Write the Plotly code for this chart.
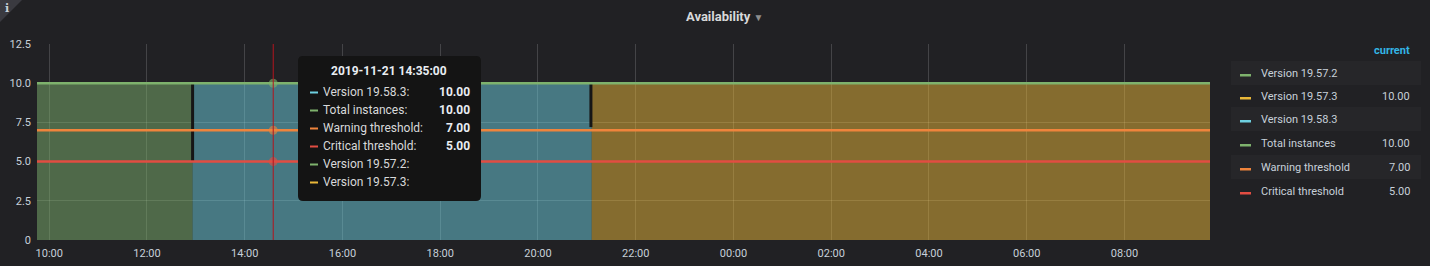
import plotly.graph_objects as go

# ---------------- data ----------------
time_range = ["2019-11-21 09:45", "2019-11-22 09:45"]

v19572_time = ["2019-11-21 09:45", "2019-11-21 12:56"]
v19572_vals = [10, 10]
v19583_time = ["2019-11-21 12:56", "2019-11-21 21:06"]
v19583_vals = [10, 10]
v19573_time = ["2019-11-21 21:06", "2019-11-22 09:45"]
v19573_vals = [10, 10]

total_vals = [10, 10]
warning_vals = [7, 7]
critical_vals = [5, 5]

transition_times = ["2019-11-21 12:56", "2019-11-21 21:05"]
gap_tops = [10.0, 10.0]
gap_bottoms = [5.0, 7.2]

cursor_time = "2019-11-21 14:35"
cursor_vals = [10, 7, 5]

x_tickvals = ["2019-11-21 10:00", "2019-11-21 12:00", "2019-11-21 14:00", "2019-11-21 16:00",
              "2019-11-21 18:00", "2019-11-21 20:00", "2019-11-21 22:00", "2019-11-22 00:00",
              "2019-11-22 02:00", "2019-11-22 04:00", "2019-11-22 06:00", "2019-11-22 08:00"]
x_ticktext = ["10:00", "12:00", "14:00", "16:00", "18:00", "20:00", "22:00", "00:00",
              "02:00", "04:00", "06:00", "08:00"]
y_tickvals = [0, 2.5, 5, 7.5, 10, 12.5]
y_ticktext = ["0", "2.5", "5.0", "7.5", "10.0", "12.5"]

legend_names = ["Version 19.57.2", "Version 19.57.3", "Version 19.58.3",
                "Total instances", "Warning threshold", "Critical threshold"]
legend_values = ["", "10.00", "", "10.00", "7.00", "5.00"]
legend_colors = ["#7EB26D", "#EAB839", "#6ED0E0", "#7EB26D", "#EF843C", "#E24D42"]

tooltip_title = "2019-11-21 14:35:00"
tooltip_names = ["Version 19.58.3:", "Total instances:", "Warning threshold:",
                 "Critical threshold:", "Version 19.57.2:", "Version 19.57.3:"]
tooltip_values = ["10.00", "10.00", "7.00", "5.00", "", ""]
tooltip_colors = ["#6ED0E0", "#7EB26D", "#EF843C", "#E24D42", "#7EB26D", "#EAB839"]

# ---------------- layout geometry (pixels) ----------------
W, H = 1430, 266
PX0, PX1 = 37, 1210
PY_TOP, PY_BOT = 44, 240
BG = "#212124"
TXT = "#c7d0d9"
FONT = "Roboto"


def px(x):
    return x / W


def py(y):
    return 1 - y / H


def note(x, y, text, size, color, xanchor="center", family=FONT):
    return dict(x=px(x), y=py(y), xref="paper", yref="paper", xanchor=xanchor, yanchor="middle",
                text=text, showarrow=False, font=dict(family=family, size=size, color=color))


def rounded_rect(x0, y0, x1, y1, r):
    return (f"M {px(x0 + r)} {py(y0)} L {px(x1 - r)} {py(y0)} Q {px(x1)} {py(y0)} {px(x1)} {py(y0 + r)} "
            f"L {px(x1)} {py(y1 - r)} Q {px(x1)} {py(y1)} {px(x1 - r)} {py(y1)} "
            f"L {px(x0 + r)} {py(y1)} Q {px(x0)} {py(y1)} {px(x0)} {py(y1 - r)} "
            f"L {px(x0)} {py(y0 + r)} Q {px(x0)} {py(y0)} {px(x0 + r)} {py(y0)} Z")


fig = go.Figure()

# stacked version areas
for t, v, c in [(v19572_time, v19572_vals, "126,178,109"),
                (v19583_time, v19583_vals, "110,208,224"),
                (v19573_time, v19573_vals, "234,184,57")]:
    fig.add_trace(go.Scatter(x=t, y=v, mode="lines", fill="tozeroy",
                             fillcolor=f"rgba({c},0.5)",
                             line=dict(color=f"rgb({c})", width=1),
                             hoverinfo="skip", showlegend=False))

# transition gap artifacts
for tt, top, bot in zip(transition_times, gap_tops, gap_bottoms):
    fig.add_trace(go.Scatter(x=[tt, tt], y=[bot, top], mode="lines",
                             line=dict(color="#161616", width=3),
                             hoverinfo="skip", showlegend=False))

# threshold / total lines
for v, c in [(total_vals, "#7EB26D"), (warning_vals, "#EF843C"), (critical_vals, "#E24D42")]:
    fig.add_trace(go.Scatter(x=time_range, y=v, mode="lines",
                             line=dict(color=c, width=2.5),
                             hoverinfo="skip", showlegend=False))

# cursor hover markers
fig.add_trace(go.Scatter(x=[cursor_time] * len(cursor_vals), y=cursor_vals, mode="markers",
                         marker=dict(size=9, color=["rgba(126,178,109,0.6)", "rgba(239,132,60,0.6)",
                                                    "rgba(226,77,66,0.6)"]),
                         hoverinfo="skip", showlegend=False))

shapes = []
annotations = []

# cursor line
shapes.append(dict(type="line", xref="x", yref="paper", x0=cursor_time, x1=cursor_time,
                   y0=py(PY_BOT), y1=py(PY_TOP), line=dict(color="#b3151e", width=1)))

# info corner
shapes.append(dict(type="path", xref="paper", yref="paper",
                   path=f"M 0 1 L {px(22)} 1 L 0 {py(22)} Z",
                   fillcolor="#3a3a40", line=dict(width=0)))
annotations.append(note(7, 8, "<b>i</b>", 11, "#c7d0d9", family="DejaVu Serif"))

# title
annotations.append(note(724, 16,
                        "<b>Availability</b> <span style='font-size:10px;color:#8e8e8e'>▼</span>",
                        13, "#d8d9da"))

# legend table
annotations.append(note(1412, 50, "<b>current</b>", 11, "#33b5e5", xanchor="right"))
row_y = [73, 96, 119, 143, 167, 191]
for i, (n, v, c) in enumerate(zip(legend_names, legend_values, legend_colors)):
    y = row_y[i]
    if i % 2 == 0:
        shapes.append(dict(type="rect", xref="paper", yref="paper",
                           x0=px(1231), x1=px(1421), y0=py(y + 12), y1=py(y - 12),
                           fillcolor="#262629", line=dict(width=0), layer="below"))
    shapes.append(dict(type="rect", xref="paper", yref="paper",
                       x0=px(1240), x1=px(1251), y0=py(y + 3.5), y1=py(y + 1),
                       fillcolor=c, line=dict(width=0)))
    annotations.append(note(1259, y, n, 11, TXT, xanchor="left"))
    if v:
        annotations.append(note(1412, y, v, 11, TXT, xanchor="right"))

# tooltip
shapes.append(dict(type="path", xref="paper", yref="paper",
                   path=rounded_rect(298, 56, 481, 201, 5),
                   fillcolor="#141414", line=dict(width=0)))
annotations.append(note(389, 71, f"<b>{tooltip_title}</b>", 12, "#e9edf2"))
tt_y = [92, 110, 128, 146, 164, 182]
for i, (n, v, c) in enumerate(zip(tooltip_names, tooltip_values, tooltip_colors)):
    y = tt_y[i]
    shapes.append(dict(type="rect", xref="paper", yref="paper",
                       x0=px(310), x1=px(318), y0=py(y + 1.5), y1=py(y - 0.5),
                       fillcolor=c, line=dict(width=0)))
    annotations.append(note(321, y, n, 12, "#d8d9da", xanchor="left"))
    if v:
        annotations.append(note(472, y, f"<b>{v}</b>", 12, "#e9edf2", xanchor="right"))

fig.update_layout(
    width=W, height=H,
    margin=dict(l=0, r=0, t=0, b=0, pad=0),
    paper_bgcolor=BG, plot_bgcolor=BG,
    hovermode=False,
    shapes=shapes, annotations=annotations,
    xaxis=dict(domain=[px(PX0), px(PX1)], type="date", range=time_range, automargin=False,
               tickvals=x_tickvals, ticktext=x_ticktext, ticklabelstandoff=5,
               showgrid=True, gridcolor="rgba(255,255,255,0.16)", gridwidth=1,
               zeroline=False, showline=False, ticks="",
               tickfont=dict(family=FONT, size=11, color=TXT)),
    yaxis=dict(domain=[py(PY_BOT), py(PY_TOP)], range=[0, 12.5], automargin=False,
               tickvals=y_tickvals, ticktext=y_ticktext, ticklabelstandoff=5,
               showgrid=True, gridcolor="rgba(255,255,255,0.16)", gridwidth=1,
               zeroline=False, showline=False, ticks="",
               tickfont=dict(family=FONT, size=11, color=TXT)),
)

fig.write_html("out.html")
